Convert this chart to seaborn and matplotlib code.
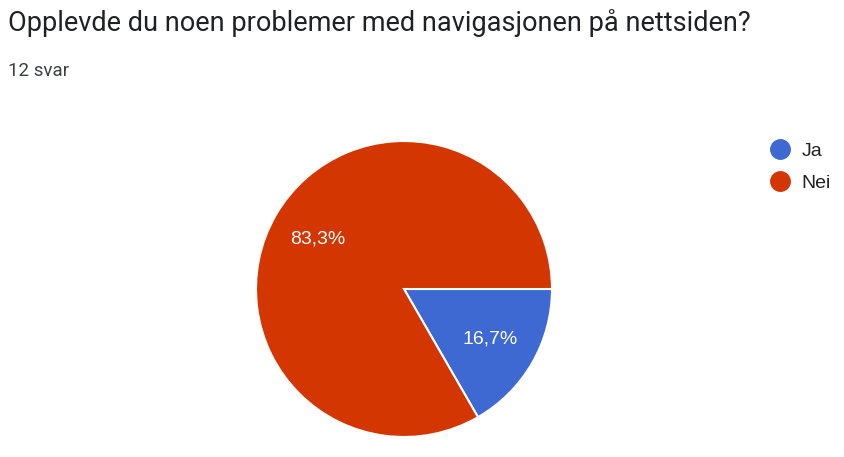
import matplotlib.pyplot as plt
from matplotlib.lines import Line2D
import seaborn as sns

# survey answers
labels = ['Ja', 'Nei']
counts = [2, 10]
pct_labels = ['16,7%', '83,3%']
colors = ['#3e68d2', '#d33600']

title = 'Opplevde du noen problemer med navigasjonen på nettsiden?'
subtitle = '12 svar'

sns.set_theme(style='white')
plt.rcParams['font.family'] = ['Roboto', 'DejaVu Sans']

W, H = 844, 457
fig = plt.figure(figsize=(W / 100, H / 100), dpi=100)
fig.patch.set_facecolor('white')

cx, cy, r = 404, 289, 148
ax = fig.add_axes([(cx - r) / W, (H - cy - r) / H, 2 * r / W, 2 * r / H])

wedges, texts, autotexts = ax.pie(
    counts, colors=colors, startangle=0, counterclock=False,
    autopct='%1.1f%%', pctdistance=0.675,
    wedgeprops=dict(edgecolor='white', linewidth=1.5),
    textprops=dict(color='white', fontsize=14, family=['Liberation Sans', 'DejaVu Sans']))
for t, s in zip(autotexts, pct_labels):
    t.set_text(s)
ax.set_xlim(-1, 1)
ax.set_ylim(-1, 1)
ax.set_aspect('equal')

fig.text(8 / W, 1 - 23 / H, title, fontsize=19.5, color='#202124', va='center', ha='left')
fig.text(8 / W, 1 - 71 / H, subtitle, fontsize=13.5, color='#3c4043', va='center', ha='left')

handles = [Line2D([0], [0], marker='o', linestyle='', markersize=14,
                  markerfacecolor=c, markeredgecolor=c) for c in colors]
fig.legend(handles, labels, loc='upper left', bbox_to_anchor=(743 / W, 1 - 125 / H),
           frameon=False, handletextpad=0.1, labelspacing=0.72,
           prop=dict(family=['Liberation Sans', 'DejaVu Sans'], size=14),
           labelcolor='#222222')

plt.savefig('out.png', dpi=100)
